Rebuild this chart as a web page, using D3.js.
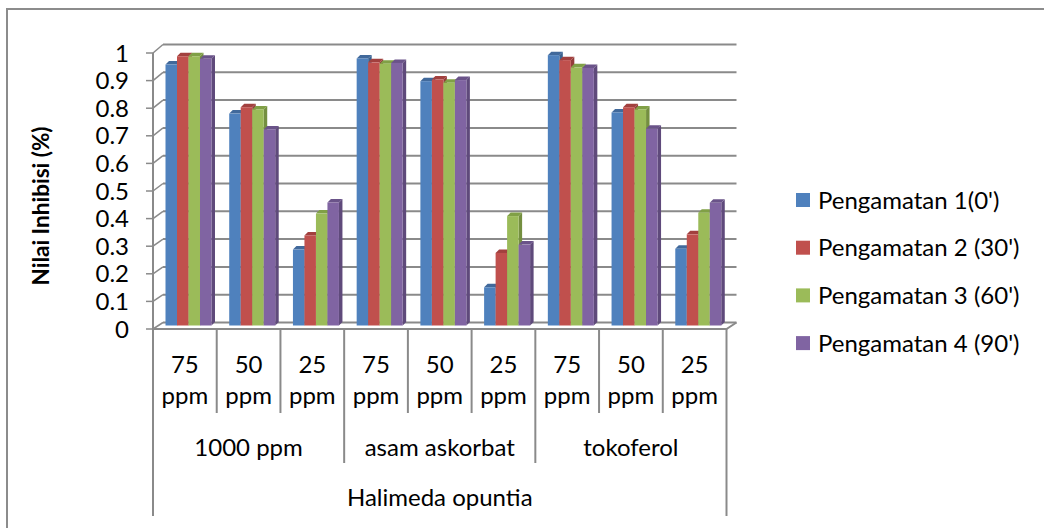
<!DOCTYPE html>
<html>
<head>
<meta charset="utf-8">
<script src="https://cdn.jsdelivr.net/npm/d3@7"></script>
<style>
  html, body { margin: 0; padding: 0; background: #fff; }
  svg text { font-family: Lato, "Open Sans", sans-serif; fill: #000; }
</style>
</head>
<body>
<svg id="chart" width="1044" height="528"></svg>
<script>
// ---- data ----
const groups = ["1000 ppm", "asam askorbat", "tokoferol"];
const concentrations = ["75 ppm", "50 ppm", "25 ppm"];
const outerLabel = "Halimeda opuntia";
const seriesNames = ["Pengamatan 1(0')", "Pengamatan 2 (30')", "Pengamatan 3 (60')", "Pengamatan 4 (90')"];
const pengamatan1 = [0.942, 0.765, 0.274, 0.964, 0.882, 0.138, 0.976, 0.769, 0.277];
const pengamatan2 = [0.972, 0.788, 0.325, 0.950, 0.888, 0.262, 0.958, 0.788, 0.329];
const pengamatan3 = [0.972, 0.780, 0.404, 0.945, 0.876, 0.395, 0.932, 0.780, 0.407];
const pengamatan4 = [0.963, 0.708, 0.444, 0.948, 0.886, 0.292, 0.930, 0.710, 0.443];
const yTicks = [0, 0.1, 0.2, 0.3, 0.4, 0.5, 0.6, 0.7, 0.8, 0.9, 1];
const yTitle = "Nilai Inhibisi (%)";

const seriesValues = [pengamatan1, pengamatan2, pengamatan3, pengamatan4];
const colors = ["#4F81BD", "#C0504D", "#9BBB59", "#8064A2"];
const sideColors = ["#3A6290", "#943C3A", "#748F40", "#5F4A7B"];
const topColors = ["#41699B", "#A2403E", "#80A046", "#6A5389"];

const svg = d3.select("#chart");
const gridColor = "#8a8a8a";
const fs = 24;

// outer border
svg.append("path").attr("d", "M7,530 L7,9 L1050,9")
  .attr("fill", "none").attr("stroke", "#8c8c8c").attr("stroke-width", 2);

// categories
const cats = [];
groups.forEach(g => concentrations.forEach(c => cats.push(g + "|" + c)));

const frontLeft = 153, frontRight = 726.5;
const depthX = 10;
const x0 = d3.scaleBand().domain(cats).range([frontLeft, frontRight]).paddingInner(0).paddingOuter(0);
const x1 = d3.scaleBand().domain(d3.range(4)).range([12.5, 58.5]);
const yBar = d3.scaleLinear().domain([0, 1]).range([325.5, 48.5]);
const yBack = d3.scaleLinear().domain([0, 1]).range([322.5, 44.5]);
const yFront = d3.scaleLinear().domain([0, 1]).range([329, 53]);

// back wall gridlines
const grid = svg.append("g");
grid.selectAll("line.back").data(yTicks).join("line")
  .attr("x1", frontLeft + depthX).attr("x2", frontRight + depthX)
  .attr("y1", d => yBack(d)).attr("y2", d => yBack(d))
  .attr("stroke", gridColor).attr("stroke-width", 2);
// side wall gridlines
grid.selectAll("line.side").data(yTicks).join("line")
  .attr("x1", frontLeft).attr("x2", frontLeft + depthX)
  .attr("y1", d => yFront(d)).attr("y2", d => yBack(d))
  .attr("stroke", gridColor).attr("stroke-width", 1.5);
// ticks
grid.selectAll("line.tick").data(yTicks).join("line")
  .attr("x1", frontLeft - 7).attr("x2", frontLeft)
  .attr("y1", d => yFront(d)).attr("y2", d => yFront(d))
  .attr("stroke", gridColor).attr("stroke-width", 1.5);
// floor front & right edge
svg.append("path")
  .attr("d", `M${frontLeft},${yFront(0)} L${frontRight},${yFront(0)} L${frontRight + depthX},${yBack(0)}`)
  .attr("fill", "none").attr("stroke", gridColor).attr("stroke-width", 2);
// y axis line
svg.append("line").attr("x1", frontLeft).attr("x2", frontLeft)
  .attr("y1", yFront(1)).attr("y2", yFront(0))
  .attr("stroke", gridColor).attr("stroke-width", 2);

// y tick labels
svg.append("g").selectAll("text").data(yTicks).join("text")
  .attr("x", 129).attr("y", d => yFront(d) + 8.5)
  .attr("text-anchor", "end").attr("font-size", fs)
  .text(d => d3.format("")(+d.toFixed(1)));

// y title
svg.append("text").attr("transform", "translate(49,206) rotate(-90)")
  .attr("text-anchor", "middle").attr("font-size", 22.5).attr("font-weight", "bold")
  .text(yTitle);

// bars
const dx = 3.5, dy = 3.5;
const barG = svg.append("g");
cats.forEach((c, ci) => {
  seriesValues.forEach((vals, si) => {
    const v = vals[ci];
    const xl = x0(c) + x1(si);
    const xr = xl + x1.bandwidth();
    const yt = yBar(v);
    const yb = yBar(0);
    const g = barG.append("g");
    g.append("path").attr("d", `M${xr},${yt} L${xr + dx},${yt - dy} L${xr + dx},${yb - dy} L${xr},${yb} Z`)
      .attr("fill", sideColors[si]);
    g.append("path").attr("d", `M${xl},${yt} L${xl + dx},${yt - dy} L${xr + dx},${yt - dy} L${xr},${yt} Z`)
      .attr("fill", topColors[si]);
    g.append("rect").attr("x", xl).attr("y", yt).attr("width", x1.bandwidth()).attr("height", yb - yt)
      .attr("fill", colors[si]);
  });
});

// category axis dividers
const axisLines = svg.append("g");
const bottomY = yFront(0);
d3.range(10).forEach(i => {
  const xx = i < 9 ? x0(cats[i]) : frontRight;
  let y2 = 413;
  if (i % 3 === 0) y2 = 463;
  if (i === 0 || i === 9) y2 = 516;
  axisLines.append("line").attr("x1", xx).attr("x2", xx).attr("y1", bottomY).attr("y2", y2)
    .attr("stroke", gridColor).attr("stroke-width", 2);
});

// category labels
const catLabels = svg.append("g");
cats.forEach(c => {
  const parts = c.split("|")[1].split(" ");
  const cx = x0(c) + x0.bandwidth() / 2;
  catLabels.append("text").attr("x", cx).attr("y", 373).attr("text-anchor", "middle").attr("font-size", fs).text(parts[0]);
  catLabels.append("text").attr("x", cx).attr("y", 404).attr("text-anchor", "middle").attr("font-size", fs).text(parts[1]);
});
groups.forEach((g, gi) => {
  const start = x0(cats[gi * 3]);
  const end = x0(cats[gi * 3 + 2]) + x0.bandwidth();
  svg.append("text").attr("x", (start + end) / 2).attr("y", 456).attr("text-anchor", "middle")
    .attr("font-size", fs).text(g);
});
svg.append("text").attr("x", (frontLeft + frontRight) / 2).attr("y", 506).attr("text-anchor", "middle")
  .attr("font-size", fs).text(outerLabel);

// legend
const legend = svg.append("g");
seriesNames.forEach((name, i) => {
  const cy = 200 + i * 47.7;
  legend.append("rect").attr("x", 796).attr("y", cy - 7).attr("width", 14).attr("height", 14).attr("fill", colors[i]);
  legend.append("text").attr("x", 818).attr("y", cy + 8.5).attr("font-size", fs).text(name);
});
</script>
</body>
</html>
